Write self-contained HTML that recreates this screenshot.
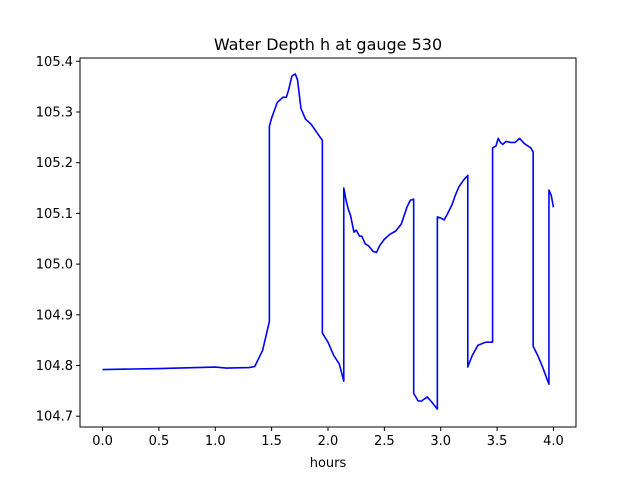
<!DOCTYPE html>
<html><head><meta charset="utf-8"><style>
body{margin:0;background:#fff;}
svg text{font-family:"DejaVu Sans","Liberation Sans",sans-serif;fill:#000;}
</style></head><body>
<svg id="chart" width="640" height="480" xmlns="http://www.w3.org/2000/svg">
<rect width="640" height="480" fill="#fff"/>
<text x="328" y="50" font-size="16" text-anchor="middle">Water Depth h at gauge 530</text>
<text x="328" y="467" font-size="13" text-anchor="middle">hours</text>
<g id="ticks"></g>
<path id="line" fill="none" stroke="#0000ff" stroke-width="1.6" stroke-linejoin="round"/>
<rect x="80" y="58" width="496" height="369" fill="none" stroke="#000" stroke-width="1"/>
</svg>
<script>
const hours=[0,0.5,1.0,1.1,1.3,1.35,1.42,1.48,1.48,1.5,1.55,1.6,1.63,1.65,1.68,1.71,1.73,1.76,1.8,1.85,1.9,1.95,1.95,2.0,2.05,2.1,2.14,2.14,2.16,2.18,2.2,2.23,2.25,2.28,2.3,2.33,2.36,2.4,2.43,2.46,2.5,2.55,2.6,2.65,2.7,2.73,2.76,2.76,2.8,2.83,2.88,2.92,2.97,2.97,3.0,3.03,3.06,3.1,3.13,3.16,3.2,3.24,3.24,3.28,3.33,3.4,3.46,3.46,3.49,3.51,3.53,3.55,3.58,3.62,3.66,3.7,3.74,3.8,3.82,3.82,3.86,3.9,3.96,3.96,3.98,4.0];
const depth=[104.792,104.794,104.797,104.795,104.796,104.798,104.83,104.887,105.272,105.288,105.319,105.329,105.329,105.343,105.371,105.375,105.363,105.307,105.286,105.276,105.26,105.244,104.864,104.846,104.82,104.803,104.769,105.15,105.126,105.108,105.096,105.063,105.067,105.055,105.055,105.04,105.036,105.025,105.023,105.037,105.049,105.059,105.065,105.079,105.112,105.126,105.128,104.745,104.73,104.73,104.738,104.728,104.714,105.093,105.091,105.087,105.099,105.117,105.136,105.152,105.165,105.175,104.797,104.82,104.84,104.846,104.846,105.229,105.233,105.248,105.24,105.236,105.242,105.24,105.24,105.248,105.238,105.229,105.221,104.838,104.82,104.799,104.763,105.146,105.136,105.112];
const xTicks=[0,0.5,1.0,1.5,2.0,2.5,3.0,3.5,4.0];
const xTickLabels=["0.0","0.5","1.0","1.5","2.0","2.5","3.0","3.5","4.0"];
const yTicks=[104.7,104.8,104.9,105.0,105.1,105.2,105.3,105.4];
const yTickLabels=["104.7","104.8","104.9","105.0","105.1","105.2","105.3","105.4"];
const X0=80,X1=576,Y0=427,Y1=58;
const xmin=-0.2,xmax=4.2,ymin=104.6787,ymax=105.4065;
const sx=v=>X0+(v-xmin)/(xmax-xmin)*(X1-X0);
const sy=v=>Y0-(v-ymin)/(ymax-ymin)*(Y0-Y1);
const NS="http://www.w3.org/2000/svg";
const g=document.getElementById('ticks');
function mk(t,a){const e=document.createElementNS(NS,t);for(const k in a)e.setAttribute(k,a[k]);return e;}
xTicks.forEach((v,i)=>{const x=sx(v);
 const l=mk('line',{x1:x,x2:x,y1:Y0,y2:Y0+4,stroke:'#000'});
 
 
 g.appendChild(l);
 const t=mk('text',{x:x,y:Y0+18,'font-size':'13','text-anchor':'middle'});t.textContent=xTickLabels[i];
 
 
 g.appendChild(t);});
yTicks.forEach((v,i)=>{const y=sy(v);
 const l=mk('line',{x1:X0-4,x2:X0,y1:y,y2:y,stroke:'#000'});
 
 
 g.appendChild(l);
 const t=mk('text',{x:X0-7,y:y+4.5,'font-size':'13','text-anchor':'end'});t.textContent=yTickLabels[i];
 
 
 g.appendChild(t);});
document.getElementById('line').setAttribute('d',hours.map((h,i)=>(i?'L':'M')+sx(h).toFixed(2)+' '+sy(depth[i]).toFixed(2)).join(' '));
</script>
</body></html>
